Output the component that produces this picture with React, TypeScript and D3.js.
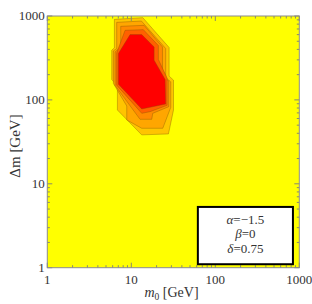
import React from 'react';
import * as d3 from 'd3';

// Contour bands, outermost first: [m0 (GeV), Δm (GeV)] vertices
const band1 = [[6.29, 912], [13.7, 955], [28.2, 421], [28.2, 192], [31.8, 172], [31.8, 75.8], [27.7, 39.3], [13.3, 38.3], [6.83, 75.8], [6.83, 146], [5.85, 175], [5.85, 391], [6.29, 417]];
const band2 = [[6.70, 840], [13.2, 871], [25.7, 409], [25.7, 185], [29.5, 164], [29.5, 81.5], [23.7, 45.9], [13.3, 45.9], [8.83, 57.7], [8.83, 84.6], [6.12, 157], [6.12, 384], [6.70, 409]];
const band3 = [[7.48, 753], [14.2, 774], [23.5, 428], [23.5, 188], [27.9, 169], [27.9, 83.0], [18.0, 69.2], [17.5, 58.7], [12.7, 58.7], [6.41, 149], [6.41, 373], [7.48, 428]];
const band4 = [[8.43, 675], [13.9, 688], [21.0, 444], [21.0, 303], [26.7, 182], [26.7, 86.1], [16.7, 72.4], [13.3, 69.2], [6.70, 150], [6.70, 363]];
const band5 = [[9.67, 600], [13.3, 600], [18.7, 428], [18.7, 297], [25.3, 175], [25.7, 89.3], [13.3, 77.9], [7.02, 154], [7.02, 357]];
const bands = [band1, band2, band3, band4, band5];
const bandColors = ['#ffc400', '#ffa600', '#ff8a00', '#ff6000', '#ff0000'];

const majorTicks = [1, 10, 100, 1000];
const minorTicks = [2, 3, 4, 5, 6, 7, 8, 9, 20, 30, 40, 50, 60, 70, 80, 90, 200, 300, 400, 500, 600, 700, 800, 900];
const legendLines = [['α', '=−1.5'], ['β', '=0'], ['δ', '=0.75']];

export default function App() {
  const W = 312, H = 304;
  const left = 47.3, right = 299.3, top = 16, bottom = 267.7;
  const x = d3.scaleLog().domain([1, 1000]).range([left, right]);
  const y = d3.scaleLog().domain([1, 1000]).range([bottom, top]);
  const line = d3.line<number[]>().x(d => x(d[0])).y(d => y(d[1])).curve(d3.curveLinearClosed);
  const font = '"Liberation Serif", "Times New Roman", "DejaVu Serif", serif';
  const tickCol = '#8a8a6a';
  // legend box corners in data units
  const bx0 = x(62), bx1 = x(840), by0 = y(5.3), by1 = y(1.1);

  return (
    <svg width={W} height={H} style={{ position: 'absolute', left: 0, top: 0, fontFamily: font }}>
      <rect x={left} y={top} width={right - left} height={bottom - top} fill="#ffff00" />
      {bands.map((b, i) => (
        <path key={i} d={line(b) || ''} fill={bandColors[i]} stroke="#7a5000" strokeOpacity={0.35} strokeWidth={1} />
      ))}
      {/* ticks on all four sides, pointing inward */}
      {majorTicks.concat(minorTicks).map(t => {
        const len = majorTicks.includes(t) ? 5 : 2.5;
        return (
          <g key={t} stroke={tickCol} strokeWidth={1}>
            <line x1={x(t)} x2={x(t)} y1={bottom} y2={bottom - len} />
            <line x1={x(t)} x2={x(t)} y1={top} y2={top + len} />
            <line x1={left} x2={left + len} y1={y(t)} y2={y(t)} />
            <line x1={right} x2={right - len} y1={y(t)} y2={y(t)} />
          </g>
        );
      })}
      <rect x={left} y={top} width={right - left} height={bottom - top} fill="none" stroke="#8c8c8c" strokeWidth={1} />
      {majorTicks.map(t => (
        <text key={'x' + t} x={x(t)} y={bottom + 16} textAnchor="middle" fontSize={13} fill="#333">{t}</text>
      ))}
      {majorTicks.map(t => (
        <text key={'y' + t} x={left - 2.5} y={y(t) + 4} textAnchor="end" fontSize={13} fill="#333">{t}</text>
      ))}
      <text x={171.5} y={297} textAnchor="middle" fontSize={14} fill="#333">
        <tspan fontStyle="italic">m</tspan><tspan fontSize={9.5} dy={3}>0</tspan><tspan dy={-3}> [GeV]</tspan>
      </text>
      <text transform="translate(20,146) rotate(-90)" textAnchor="middle" fontSize={15} fill="#333">Δm [GeV]</text>
      <rect x={bx0} y={by0} width={bx1 - bx0} height={by1 - by0} fill="#fff" stroke="#000" strokeWidth={2} />
      {legendLines.map((l, i) => (
        <text key={i} x={(bx0 + bx1) / 2} y={by0 + 17 + i * 14.5} textAnchor="middle" fontSize={13} fill="#333">
          <tspan fontStyle="italic">{l[0]}</tspan>{l[1]}
        </text>
      ))}
    </svg>
  );
}
